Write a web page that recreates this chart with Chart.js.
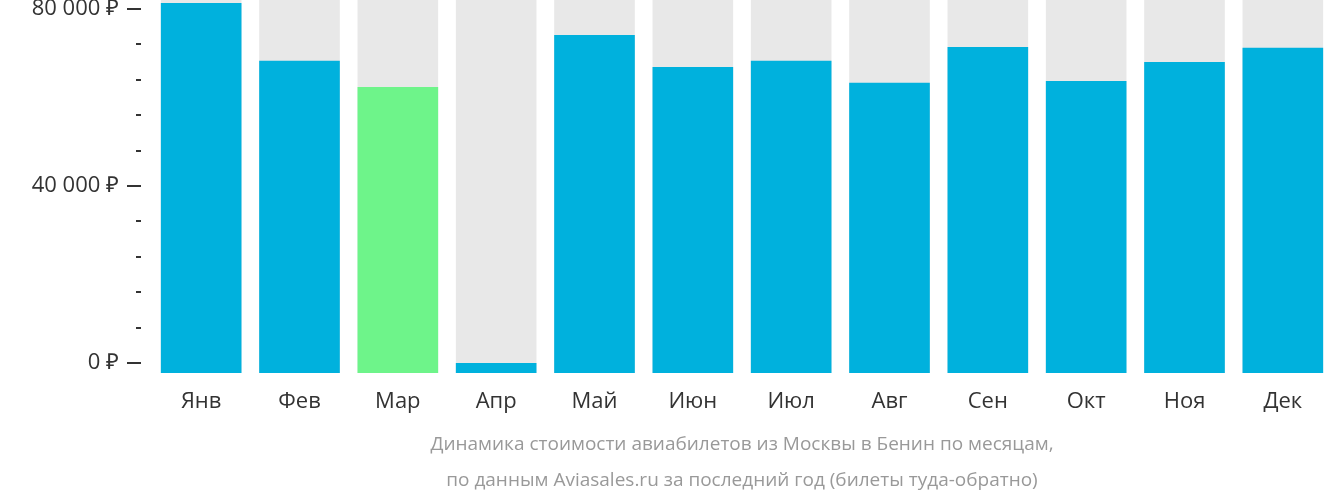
<!DOCTYPE html>
<html>
<head>
<meta charset="utf-8">
<script src="https://cdn.jsdelivr.net/npm/chart.js@4"></script>
<style>
  body { margin: 0; background: #fff; font-family: "Open Sans", sans-serif; }
  #wrap { position: relative; width: 1332px; height: 502px; }
  .note { position: absolute; left: 152px; width: 1180px; text-align: center; color: #999; font-size: 19px; }
</style>
</head>
<body>
<div id="wrap">
  <canvas id="c" width="1332" height="502"></canvas>
  <div class="note" style="top:430px">Динамика стоимости авиабилетов из Москвы в Бенин по месяцам,</div>
  <div class="note" style="top:466px">по данным Aviasales.ru за последний год (билеты туда-обратно)</div>
</div>
<script>
const months = ['Янв','Фев','Мар','Апр','Май','Июн','Июл','Авг','Сен','Окт','Ноя','Дек'];
const prices = [81350, 68250, 62370, 0, 74120, 66890, 68250, 63280, 71410, 63730, 68020, 71190];
const barColors = ['#00b1dd','#00b1dd','#6ef48a','#00b1dd','#00b1dd','#00b1dd','#00b1dd','#00b1dd','#00b1dd','#00b1dd','#00b1dd','#00b1dd'];
const yMin = -2260;
const yMax = 82000;
const yLabels = [0, 40000, 80000];

// y axis ticks & labels drawn by hand (long for labelled values, short for minors)
const yAxisPlugin = {
  id: 'yAxisMarks',
  afterDraw(chart) {
    const ctx = chart.ctx;
    const y = chart.scales.y;
    ctx.save();
    ctx.strokeStyle = '#333';
    ctx.lineWidth = 2;
    ctx.fillStyle = '#333';
    ctx.font = '22px "Open Sans"';
    ctx.textAlign = 'right';
    ctx.textBaseline = 'middle';
    for (let v = 0; v <= 80000; v += 8000) {
      const py = Math.round(y.getPixelForValue(v));
      const major = yLabels.includes(v);
      ctx.beginPath();
      ctx.moveTo(major ? 127 : 136, py);
      ctx.lineTo(141, py);
      ctx.stroke();
      if (major) ctx.fillText(v.toLocaleString('ru-RU').replace(/\s/g, ' ') + ' ₽', 119, py);
    }
    ctx.restore();
  }
};

new Chart(document.getElementById('c'), {
  type: 'bar',
  data: {
    labels: months,
    datasets: [
      { data: prices.map(p => [yMin, p]), backgroundColor: barColors, grouped: false, order: 1 },
      { data: prices.map(() => [yMin, yMax]), backgroundColor: '#e8e8e8', grouped: false, order: 2 }
    ]
  },
  options: {
    responsive: false,
    animation: false,
    layout: { padding: 0 },
    plugins: { legend: { display: false }, tooltip: { enabled: false } },
    datasets: { bar: { barPercentage: 0.82, categoryPercentage: 1 } },
    scales: {
      x: {
        grid: { display: false },
        border: { display: false },
        ticks: { color: '#333', font: { size: 22, family: 'Open Sans' }, padding: 8, maxRotation: 0 },
        afterFit(s) { s.height = 129; }
      },
      y: {
        min: yMin, max: yMax,
        grid: { display: false },
        border: { display: false },
        ticks: { display: false },
        afterFit(s) { s.width = 152; }
      }
    }
  },
  plugins: [yAxisPlugin]
});
</script>
</body>
</html>
